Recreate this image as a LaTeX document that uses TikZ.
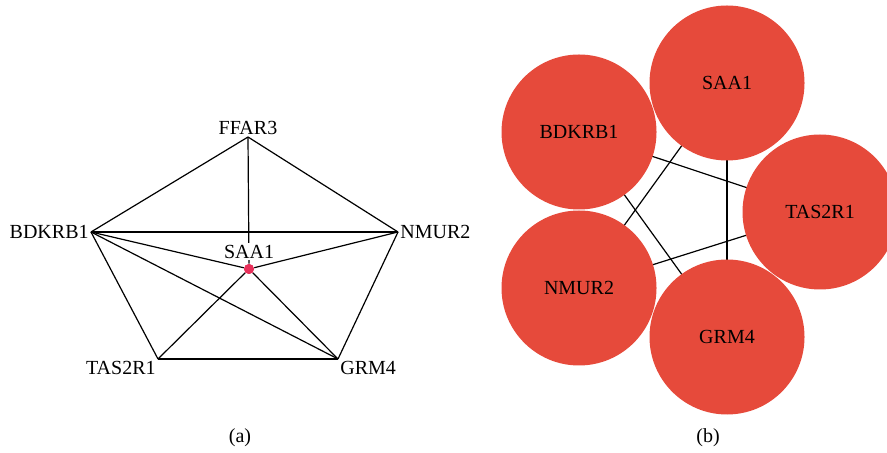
\documentclass[tikz,border=0pt]{standalone}
\usepackage{fontspec}
\setmainfont{Liberation Serif}
\usepackage{tikz}
\usepackage{xcolor}
\usetikzlibrary{positioning}
\usetikzlibrary{backgrounds}

\definecolor{nodered}{RGB}{230,74,59}
\definecolor{dotred}{RGB}{232,48,90}

\begin{document}
\begin{tikzpicture}[x=0.5pt,y=-0.5pt,font=\fontsize{10}{12}\selectfont,
  lbl/.style={inner sep=1pt},
  edge/.style={line width=0.6pt},
  bignode/.style={circle,fill=nodered,minimum size=77.5pt,inner sep=0pt}]
\clip (0,0) rectangle (887,453);

% (a) network of the six genes
\node[lbl,anchor=south] (ffar) at (248,137) {FFAR3};
\node[lbl,anchor=east] (bdk) at (91,232) {BDKRB1};
\node[lbl,anchor=west] (nmu) at (398,232) {NMUR2};
\node[lbl,anchor=north east] (tas) at (158,359) {TAS2R1};
\node[lbl,anchor=north west] (grm) at (338,359) {GRM4};
\node[circle,fill=dotred,inner sep=0pt,minimum size=5pt] (saa) at (249,269) {};

\foreach \a/\b in {ffar.south/bdk.east, ffar.south/nmu.west, ffar.south/saa,
  bdk.east/nmu.west, bdk.east/saa, bdk.east/tas.north east, bdk.east/grm.north west,
  nmu.west/saa, nmu.west/grm.north west, saa/tas.north east, saa/grm.north west,
  tas.north east/grm.north west}
  \draw[edge] (\a) -- (\b);
\node[lbl,fill=white,above=1.5pt of saa] (saalbl) {SAA1};
\fill[dotred] (saa) circle (2.5pt);

\node (capa) at (240,438) {(a)};

% (b) the five genes as big circles
\node[bignode] (saa2) at (727,83) {SAA1};
\node[bignode] (bdk2) at (579,132) {BDKRB1};
\node[bignode] (tas2) at (820,212) {TAS2R1};
\node[bignode] (nmu2) at (579,288) {NMUR2};
\node[bignode] (grm2) at (727,337) {GRM4};

\begin{pgfonlayer}{background}
\foreach \a/\b in {bdk2/tas2, saa2/nmu2, saa2/grm2, bdk2/grm2, nmu2/tas2}
  \draw[edge] (\a.center) -- (\b.center);
\end{pgfonlayer}

\node (capb) at (708,438) {(b)};
\end{tikzpicture}
\end{document}
